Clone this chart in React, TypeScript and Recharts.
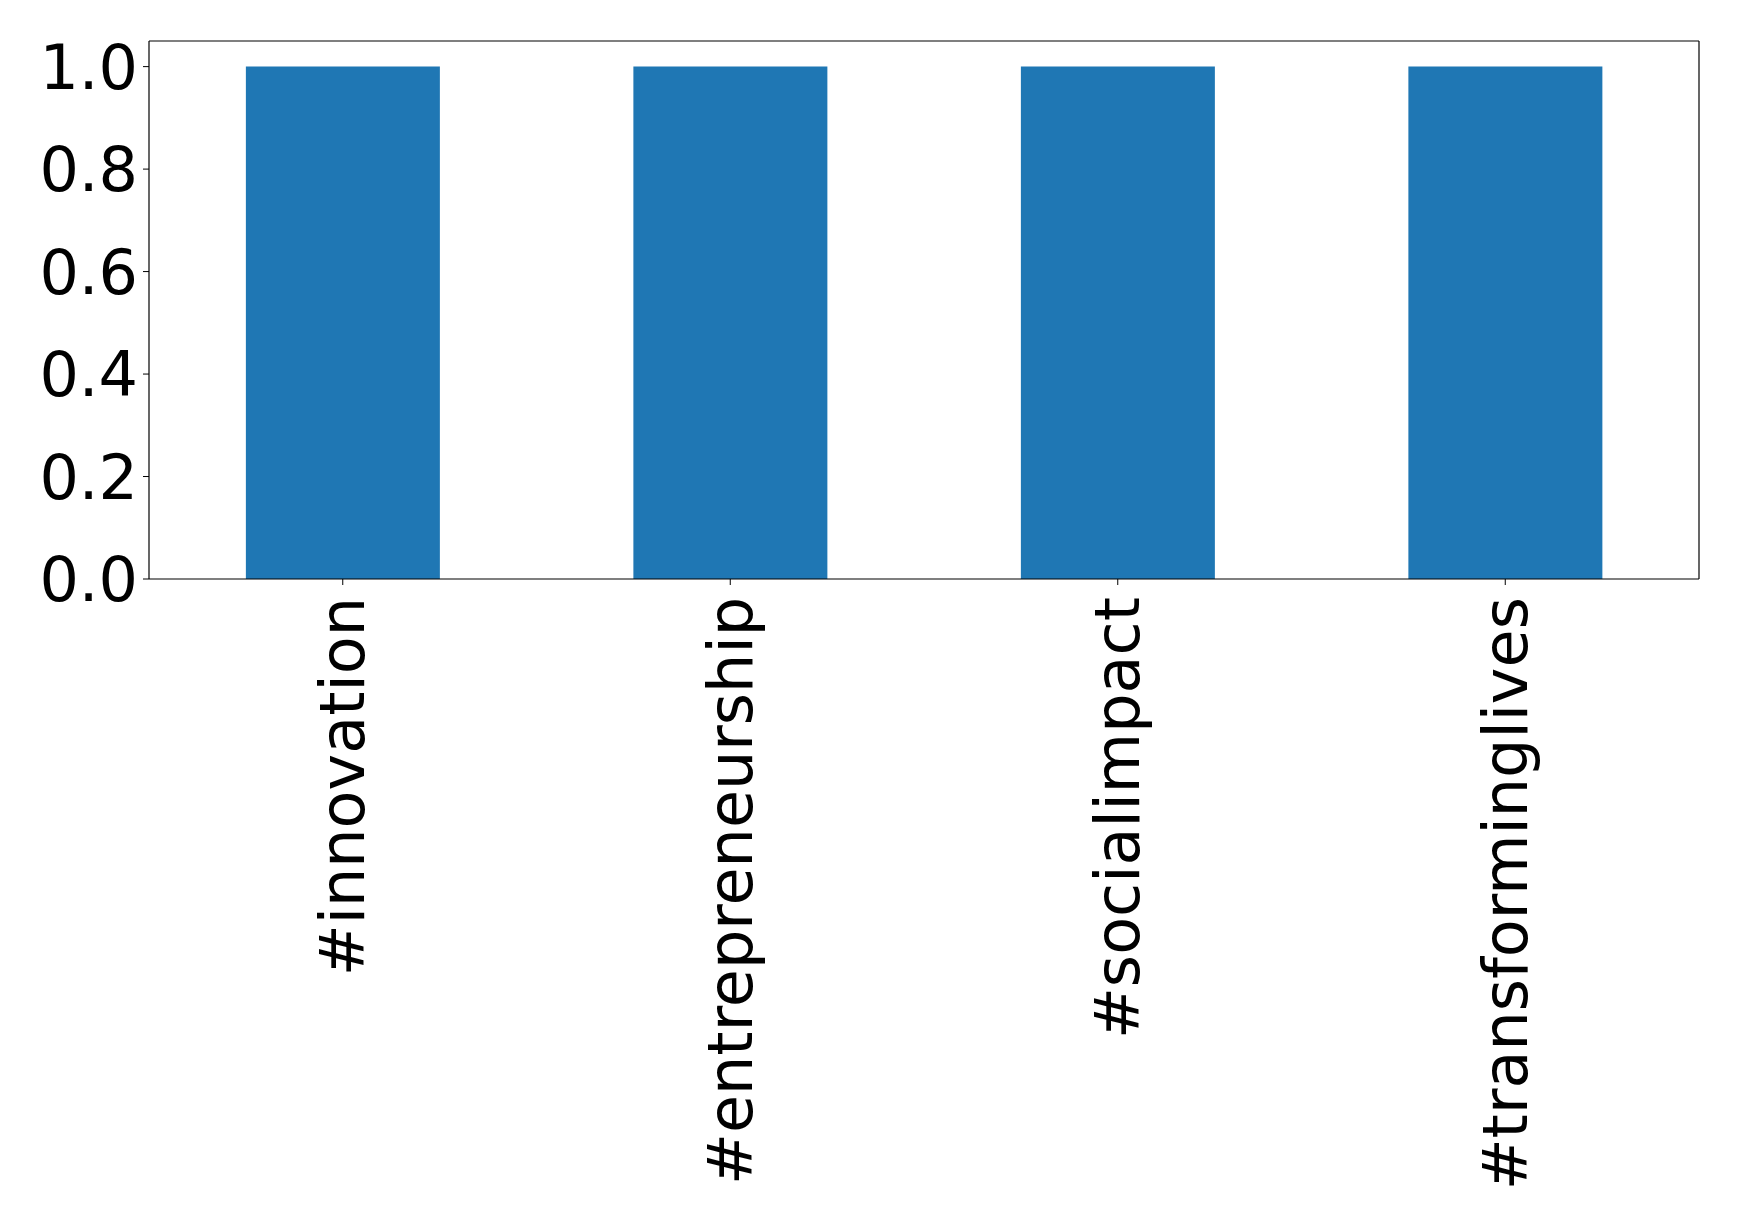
import { BarChart, Bar, XAxis, YAxis } from 'recharts';

// 集計データ
const hashtags = ['#innovation', '#entrepreneurship', '#socialimpact', '#transforminglives'];
const counts = [1, 1, 1, 1];
const yTicks = [0, 0.2, 0.4, 0.6, 0.8, 1.0];

const chartData = hashtags.map((tag, i) => ({ tag, count: counts[i] }));

const FONT = '"DejaVu Sans", sans-serif';
const FONT_SIZE = 62;

// 90度回転したカテゴリラベル
function RotatedTick(props: any) {
  const { x, y, payload } = props;
  return (
    <text
      transform={`translate(${x},${y}) rotate(-90)`}
      textAnchor="end"
      dominantBaseline="central"
      fontFamily={FONT}
      fontSize={FONT_SIZE}
      fill="#000"
    >
      {payload.value}
    </text>
  );
}

export default function App() {
  return (
    <div style={{ position: 'absolute', left: 0, top: 0, background: '#fff' }}>
      <BarChart
        width={1739}
        height={1226}
        data={chartData}
        margin={{ top: 40, right: 39, left: 0, bottom: 0 }}
        barCategoryGap="25%"
      >
        <XAxis
          dataKey="tag"
          height={647}
          interval={0}
          tickSize={6}
          tickMargin={12}
          axisLine={{ stroke: '#000', strokeWidth: 1.2 }}
          tickLine={{ stroke: '#000' }}
          tick={<RotatedTick />}
        />
        <XAxis
          xAxisId="top"
          dataKey="tag"
          orientation="top"
          height={1}
          tick={false}
          tickLine={false}
          axisLine={{ stroke: '#000', strokeWidth: 1.2 }}
        />
        <YAxis
          width={149}
          domain={[0, 1.05]}
          ticks={yTicks}
          tickFormatter={(v: number) => v.toFixed(1)}
          tickSize={6}
          tickMargin={5}
          axisLine={{ stroke: '#000', strokeWidth: 1.2 }}
          tickLine={{ stroke: '#000' }}
          tick={{ fill: '#000', fontSize: FONT_SIZE, fontFamily: FONT }}
        />
        <YAxis
          yAxisId="right"
          orientation="right"
          width={1}
          domain={[0, 1.05]}
          tick={false}
          tickLine={false}
          axisLine={{ stroke: '#000', strokeWidth: 1.2 }}
        />
        <Bar dataKey="count" fill="#1f77b4" isAnimationActive={false} />
      </BarChart>
    </div>
  );
}
